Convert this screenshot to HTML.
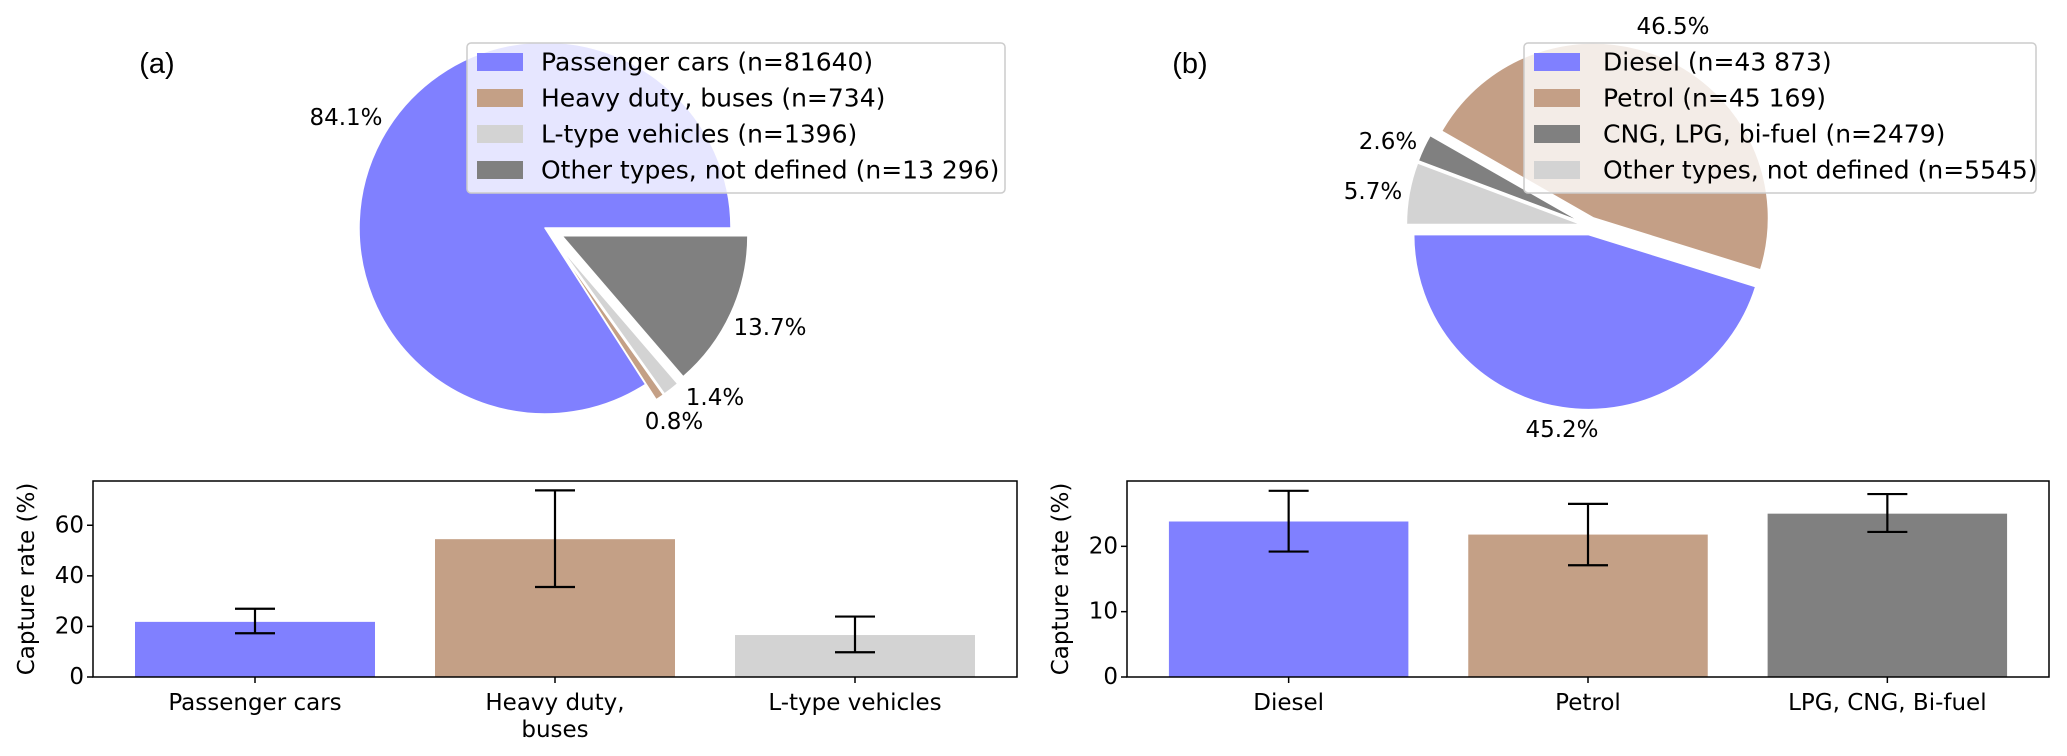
<!DOCTYPE html>
<html><head><meta charset="utf-8"><style>
html,body{margin:0;padding:0;background:#fff;}
svg{display:block;font-family:"DejaVu Sans","Liberation Sans",sans-serif;}
</style></head><body>
<svg id="fig" width="2067" height="756" viewBox="0 0 2067 756" xmlns="http://www.w3.org/2000/svg">
<g id="pieA"></g>
<g id="pieB"></g>
<text x="157" y="73" font-family="Liberation Sans, sans-serif" font-size="29" text-anchor="middle">(a)</text>
<text x="1190" y="73" font-family="Liberation Sans, sans-serif" font-size="29" text-anchor="middle">(b)</text>
<g font-size="23" text-anchor="middle" dominant-baseline="central">
<text x="346" y="118">84.1%</text>
<text x="770" y="328">13.7%</text>
<text x="715" y="398">1.4%</text>
<text x="674" y="422">0.8%</text>
<text x="1673" y="27">46.5%</text>
<text x="1388" y="142">2.6%</text>
<text x="1373" y="192">5.7%</text>
<text x="1562" y="430">45.2%</text>
</g>
<g id="legA"></g>
<g id="legB"></g>
<g id="barA"></g>
<g id="barB"></g>
</svg>
<script>
// Pie (a) data
const pieALabels = ["Passenger cars (n=81640)", "Heavy duty, buses (n=734)", "L-type vehicles (n=1396)", "Other types, not defined (n=13 296)"];
const pieAValues = [81640, 734, 1396, 13296];
const pieAExplode = [0, 0.1, 0.1, 0.1];
// Pie (b) data
const pieBLabels = ["Diesel (n=43 873)", "Petrol (n=45 169)", "CNG, LPG, bi-fuel (n=2479)", "Other types, not defined (n=5545)"];
const pieBValues = [43873, 45169, 2479, 5545];
const pieBExplode = [0.05, 0.05, 0.05, 0.05];
// Bar (a) data
const barACats = ["Passenger cars", "Heavy duty,|buses", "L-type vehicles"];
const barAValues = [21.8, 54.5, 16.6];
const barALow = [17.3, 35.6, 9.8];
const barAHigh = [27.0, 73.8, 23.9];
const barATicks = [0, 20, 40, 60];
// Bar (b) data
const barBCats = ["Diesel", "Petrol", "LPG, CNG, Bi-fuel"];
const barBValues = [23.8, 21.8, 25.0];
const barBLow = [19.2, 17.1, 22.2];
const barBHigh = [28.5, 26.5, 28.0];
const barBTicks = [0, 10, 20];

const NS = "http://www.w3.org/2000/svg";
function mk(tag, attrs, parent){const e=document.createElementNS(NS,tag);for(const k in attrs)e.setAttribute(k,attrs[k]);parent.appendChild(e);return e;}

function drawPie(g, values, explode, colors, cx, cy, r, start, names){
  const tot = values.reduce((a,b)=>a+b,0);
  let a0 = start;
  values.forEach((v,i)=>{
    const span = v/tot*360, a1 = a0+span, mid=(a0+a1)/2*Math.PI/180;
    const ox = cx + Math.cos(mid)*explode[i]*r, oy = cy - Math.sin(mid)*explode[i]*r;
    const t0=a0*Math.PI/180, t1=a1*Math.PI/180;
    const x0=ox+r*Math.cos(t0), y0=oy-r*Math.sin(t0), x1=ox+r*Math.cos(t1), y1=oy-r*Math.sin(t1);
    const p = mk("path",{d:`M${ox},${oy} L${x0},${y0} A${r},${r} 0 ${span>180?1:0} 0 ${x1},${y1} Z`, fill:colors[i], stroke:"#fff","stroke-width":1.5, "stroke-linejoin":"round"}, g);
    
    
    a0 = a1;
  });
}
const colA = ["#8080ff","#c4a086","#d3d3d3","#808080"];
const colB = ["#8080ff","#c49f86","#808080","#d3d3d3"];
drawPie(document.getElementById("pieA"), pieAValues, pieAExplode, colA, 545, 228, 186, 0, ["passenger","heavy","ltype","other"]);
drawPie(document.getElementById("pieB"), pieBValues, pieBExplode, colB, 1590, 226, 175, 180, ["diesel","petrol","cng","other"]);

function drawLegend(g, x, y, w, labels, colors, textOff){
  const box = mk("rect",{x:x,y:y,width:w,height:150,rx:4,fill:"rgba(255,255,255,0.8)",stroke:"#cccccc","stroke-width":1.5},g);
  
  
  labels.forEach((l,i)=>{
    const cy = y+19+i*36;
    const sw = mk("rect",{x:x+10,y:cy-9,width:46,height:18,fill:colors[i]},g);
    
    
    const t = mk("text",{x:x+textOff,y:cy,"font-size":25,"dominant-baseline":"central"},g);
    t.textContent = l;
    
    
  });
}
drawLegend(document.getElementById("legA"), 467, 43, 538, pieALabels, colA, 74);
drawLegend(document.getElementById("legB"), 1524, 43, 512, pieBLabels, colB, 79);

function drawBars(g, left, right, top, bottom, ymax, cats, vals, lo, hi, ticks, colors, ylabX){
  const xmin=-0.54, xmax=cats.length-1+0.54;
  const sx = v => left + (v-xmin)/(xmax-xmin)*(right-left);
  const sy = v => bottom - v/ymax*(bottom-top);
  const bw = 0.8*(right-left)/(xmax-xmin);
  vals.forEach((v,i)=>{
    const b = mk("rect",{x:sx(i)-bw/2,y:sy(v),width:bw,height:bottom-sy(v),fill:colors[i]},g);
    
    
    const e = mk("path",{d:`M${sx(i)},${sy(lo[i])} V${sy(hi[i])} M${sx(i)-20},${sy(hi[i])} H${sx(i)+20} M${sx(i)-20},${sy(lo[i])} H${sx(i)+20}`,stroke:"#000","stroke-width":2.2,fill:"none"},g);
    
    
    const tk = mk("line",{x1:sx(i),x2:sx(i),y1:bottom,y2:bottom+6,stroke:"#000","stroke-width":1.5},g);
    
    
    cats[i].split("|").forEach((ln,j)=>{
      const t = mk("text",{x:sx(i),y:710+j*27,"font-size":23,"text-anchor":"middle"},g);
      t.textContent = ln;
      
      
    });
  });
  ticks.forEach(tv=>{
    const tk = mk("line",{x1:left-6,x2:left,y1:sy(tv),y2:sy(tv),stroke:"#000","stroke-width":1.5},g);
    
    
    const t = mk("text",{x:left-9,y:sy(tv),"font-size":23,"text-anchor":"end","dominant-baseline":"central"},g);
    t.textContent = tv;
    
    
  });
  const fr = mk("rect",{x:left,y:top,width:right-left,height:bottom-top,fill:"none",stroke:"#000","stroke-width":1.5},g);
  
  
  const yl = mk("text",{x:ylabX,y:579,"font-size":23,"text-anchor":"middle","dominant-baseline":"central",transform:`rotate(-90 ${ylabX} 579)`},g);
  yl.textContent = "Capture rate (%)";
  
  
}
drawBars(document.getElementById("barA"), 93, 1017, 481, 677, 77.5, barACats, barAValues, barALow, barAHigh, barATicks, ["#8080ff","#c4a086","#d3d3d3"], 27);
drawBars(document.getElementById("barB"), 1127, 2049, 481, 677, 30, barBCats, barBValues, barBLow, barBHigh, barBTicks, ["#8080ff","#c4a086","#808080"], 1061);
</script>
</body></html>
